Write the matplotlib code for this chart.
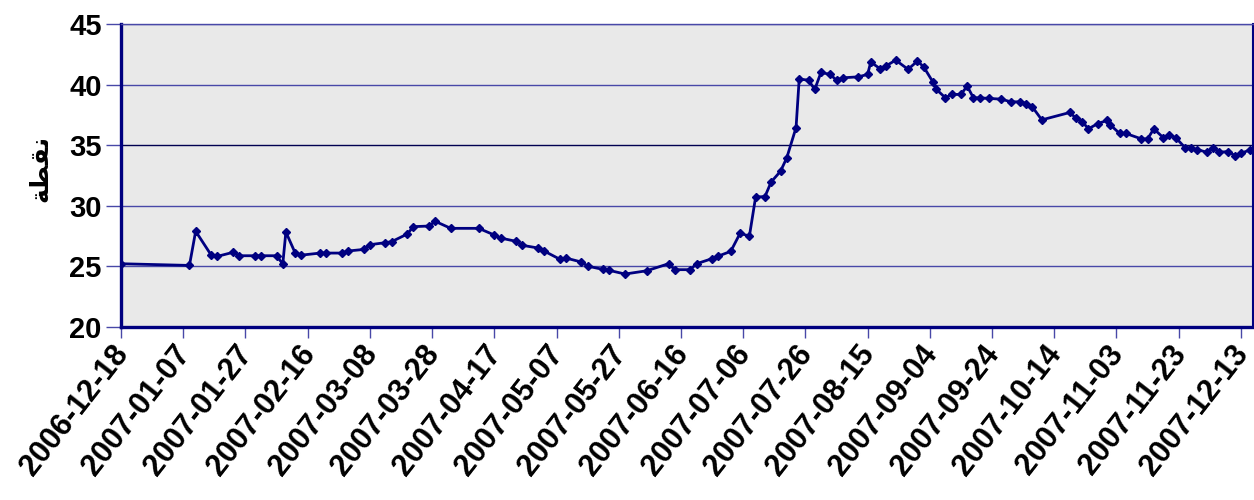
import numpy as np
import pandas as pd
import matplotlib
matplotlib.use("Agg")
import matplotlib.pyplot as plt
import matplotlib.transforms as mtransforms

# data (date, points)
dates = [
    "2006-12-18", "2007-01-09", "2007-01-11", "2007-01-16", "2007-01-18", "2007-01-23",
    "2007-01-25", "2007-01-30", "2007-02-01", "2007-02-06", "2007-02-08", "2007-02-09",
    "2007-02-12", "2007-02-14", "2007-02-20", "2007-02-22", "2007-02-27", "2007-03-01",
    "2007-03-06", "2007-03-08", "2007-03-13", "2007-03-15", "2007-03-20", "2007-03-22",
    "2007-03-27", "2007-03-29", "2007-04-03", "2007-04-12", "2007-04-17", "2007-04-19",
    "2007-04-24", "2007-04-26", "2007-05-01", "2007-05-03", "2007-05-08", "2007-05-10",
    "2007-05-15", "2007-05-17", "2007-05-22", "2007-05-24", "2007-05-29", "2007-06-05",
    "2007-06-12", "2007-06-14", "2007-06-19", "2007-06-21", "2007-06-26", "2007-06-28",
    "2007-07-02", "2007-07-05", "2007-07-08", "2007-07-10", "2007-07-13", "2007-07-15",
    "2007-07-18", "2007-07-20", "2007-07-23", "2007-07-24", "2007-07-27", "2007-07-29",
    "2007-07-31", "2007-08-03", "2007-08-05", "2007-08-07", "2007-08-12", "2007-08-15",
    "2007-08-16", "2007-08-19", "2007-08-21", "2007-08-24", "2007-08-28", "2007-08-31",
    "2007-09-02", "2007-09-05", "2007-09-06", "2007-09-09", "2007-09-11", "2007-09-14",
    "2007-09-16", "2007-09-18", "2007-09-20", "2007-09-23", "2007-09-27", "2007-09-30",
    "2007-10-03", "2007-10-05", "2007-10-07", "2007-10-10", "2007-10-19", "2007-10-21",
    "2007-10-23", "2007-10-25", "2007-10-28", "2007-10-31", "2007-11-01", "2007-11-04",
    "2007-11-06", "2007-11-11", "2007-11-13", "2007-11-15", "2007-11-18", "2007-11-20",
    "2007-11-22", "2007-11-25", "2007-11-27", "2007-11-29", "2007-12-02", "2007-12-04",
    "2007-12-06", "2007-12-09", "2007-12-11", "2007-12-13", "2007-12-16",
]
values = [
    25.22, 25.08, 27.90, 25.93, 25.83, 26.16,
    25.88, 25.88, 25.88, 25.88, 25.20, 27.84,
    26.10, 25.93, 26.10, 26.10, 26.10, 26.27,
    26.40, 26.79, 26.96, 27.04, 27.67, 28.28,
    28.33, 28.72, 28.14, 28.14, 27.59, 27.34,
    27.07, 26.74, 26.52, 26.27, 25.60, 25.69,
    25.36, 25.02, 24.75, 24.67, 24.37, 24.64,
    25.22, 24.73, 24.73, 25.22, 25.64, 25.85,
    26.24, 27.73, 27.50, 30.73, 30.76, 31.97,
    32.85, 33.95, 36.46, 40.45, 40.37, 39.60,
    41.00, 40.84, 40.35, 40.56, 40.64, 40.84,
    41.86, 41.31, 41.55, 42.02, 41.26, 41.94,
    41.47, 40.21, 39.63, 38.91, 39.19, 39.19,
    39.88, 38.91, 38.91, 38.86, 38.80, 38.58,
    38.58, 38.44, 38.14, 37.09, 37.70, 37.23,
    36.93, 36.35, 36.79, 37.04, 36.68, 35.97,
    35.97, 35.52, 35.52, 36.35, 35.63, 35.85,
    35.63, 34.81, 34.73, 34.64, 34.42, 34.81,
    34.42, 34.48, 34.15, 34.34, 34.61,
]

tick_labels = [
    "2006-12-18", "2007-01-07", "2007-01-27", "2007-02-16", "2007-03-08",
    "2007-03-28", "2007-04-17", "2007-05-07", "2007-05-27", "2007-06-16",
    "2007-07-06", "2007-07-26", "2007-08-15", "2007-09-04", "2007-09-24",
    "2007-10-14", "2007-11-03", "2007-11-23", "2007-12-13",
]
y_ticks = [20, 25, 30, 35, 40, 45]
x_start, x_end = "2006-12-18", "2007-12-17"
y_label = "\uFE94\uFEC4\uFED8\uFEE7"  # نقطة in presentation forms (visual order)

x = pd.to_datetime(dates)
tick_dates = pd.to_datetime(tick_labels)
navy = "#000080"
gridblue = "#4848a8"

fig = plt.figure(figsize=(12.54, 5.0), dpi=100)
ax = fig.add_axes([121 / 1254, 1 - 327 / 500, 1 - 121 / 1254 - 0.0005, (327 - 24) / 500])
ax.set_facecolor("#e9e9e9")

for yv in y_ticks[1:]:
    ax.axhline(yv, color=("#000050" if yv == 35 else gridblue), lw=1.0, zorder=1)

ax.plot(x, values, color=navy, lw=2.0, marker="D", markersize=4.5,
        markerfacecolor=navy, markeredgecolor=navy, zorder=3)

ax.set_xlim(pd.Timestamp(x_start), pd.Timestamp(x_end))
ax.set_ylim(y_ticks[0], y_ticks[-1])
ax.set_yticks(y_ticks)
ax.set_xticks(tick_dates)
ax.set_xticklabels([])

# slanted date labels, nudged left/down from each tick
shift = mtransforms.ScaledTranslation(-10 / 100, -13 / 100, fig.dpi_scale_trans)
for d, lab in zip(tick_dates, tick_labels):
    ax.text(d, 0, lab, transform=ax.get_xaxis_transform() + shift,
            rotation=52, ha="right", va="top", rotation_mode="anchor",
            fontsize=22, fontweight="bold", family="Liberation Sans", clip_on=False)

for lab in ax.get_yticklabels():
    lab.set_fontsize(21)
    lab.set_fontweight("bold")
    lab.set_family("Liberation Sans")

ax.tick_params(axis="x", direction="out", length=8, width=1, color=gridblue)
ax.tick_params(axis="y", direction="out", length=11, width=1, color=gridblue, pad=3)

ax.spines["left"].set_color(navy)
ax.spines["left"].set_linewidth(2.4)
ax.spines["bottom"].set_color(navy)
ax.spines["bottom"].set_linewidth(2.4)
ax.spines["right"].set_color(navy)
ax.spines["right"].set_linewidth(1.5)
ax.spines["top"].set_color(gridblue)
ax.spines["top"].set_linewidth(1.0)

fig.text(40 / 1254, 1 - 168 / 500, y_label, rotation=90, ha="center", va="center",
         fontsize=18, fontweight="bold", family=["DejaVu Sans"])

fig.savefig("out.png", dpi=100)
